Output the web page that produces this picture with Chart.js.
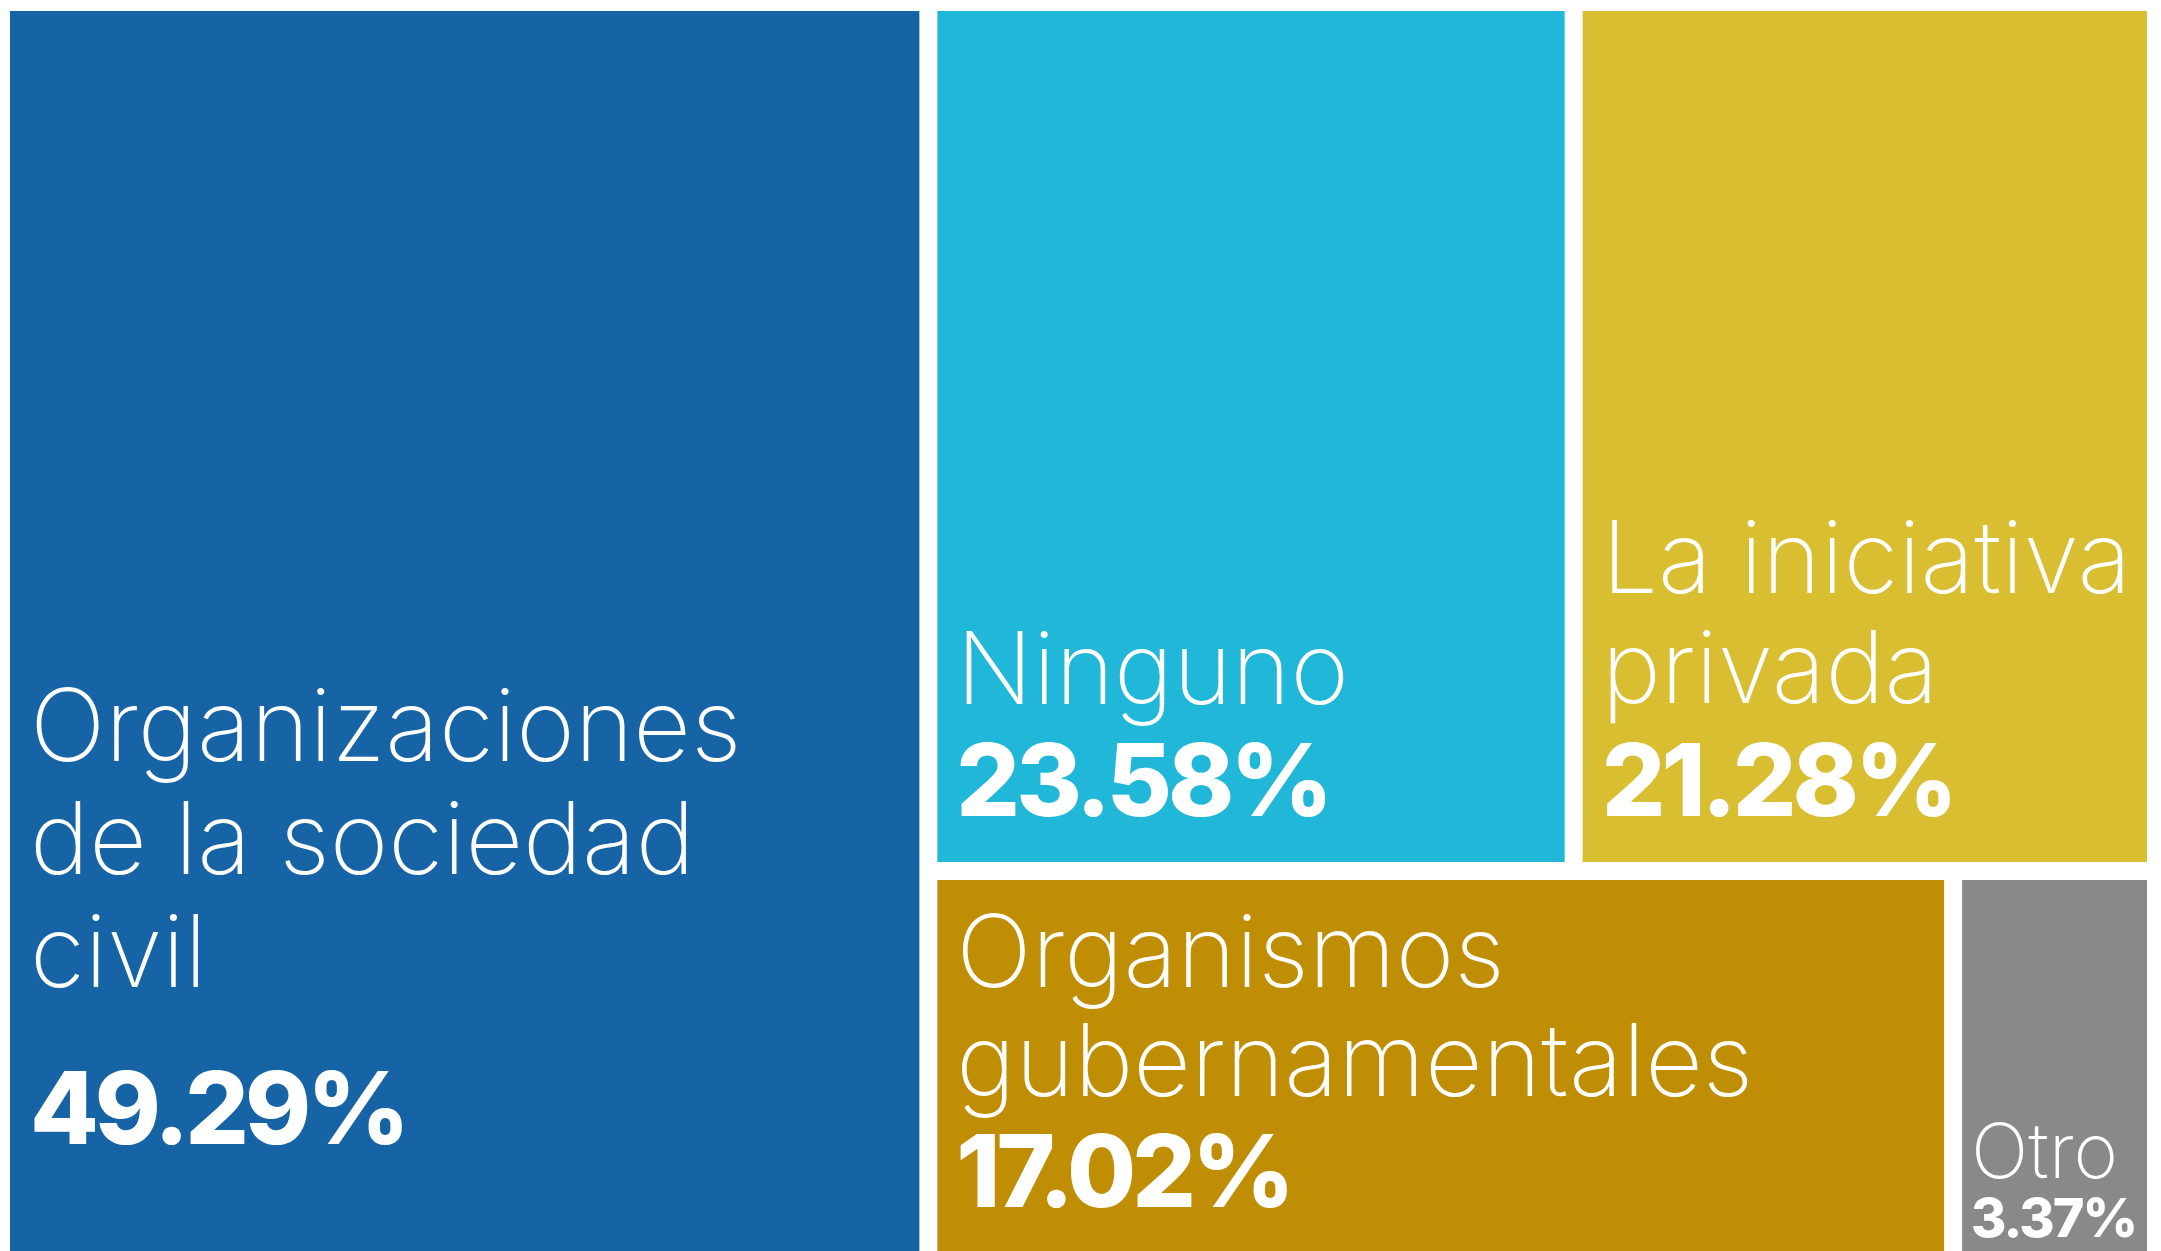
<!DOCTYPE html>
<html>
<head>
<meta charset="utf-8">
<script src="https://cdn.jsdelivr.net/npm/chart.js@4/dist/chart.umd.min.js"></script>
<style>
  html, body { margin: 0; padding: 0; background: #ffffff; overflow: hidden; width: 2161px; height: 1251px; }
  #wrap { position: absolute; left: 1px; top: 2px; width: 2155px; height: 1264px; }
</style>
</head>
<body>
<div id="wrap"><canvas id="treemap"></canvas></div>
<script>
// categories (label lines) and their share in %
const categories = [
    ['Organizaciones', 'de la sociedad', 'civil'],
    ['Ninguno'],
    ['La iniciativa', 'privada'],
    ['Organismos', 'gubernamentales'],
    ['Otro']
];
const shares = [49.29, 23.58, 21.28, 17.02, 3.37];
const colors = ['#1663a5', '#21b7d9', '#d9be31', '#bf8e04', '#898989'];

// text look per tile: font sizes, line height, bottom padding, gap label->value
const textStyle = [
    { size: 100, valSize: 100, lh: 113, pad: 20, bottom: 113, gap: 157, track: -4 },
    { size: 100, valSize: 100, lh: 112, pad: 19, bottom: 46, gap: 112, track: -4 },
    { size: 100, valSize: 100, lh: 110, pad: 19, bottom: 46, gap: 113, track: -4 },
    { size: 100, valSize: 100, lh: 109, pad: 19, bottom: 50, gap: 111, track: -4 },
    { size: 76, valSize: 54, lh: 80, pad: 9, bottom: 20, gap: 59, track: -2 }
];
const spacing = 9;

// squarified layout inside a pixel box
function squarify(values, box) {
    const total = values.reduce((a, b) => a + b, 0);
    const areas = values.map(v => v / total * box.w * box.h);
    const out = [];
    let r = { x: box.x, y: box.y, w: box.w, h: box.h };
    let i = 0;
    const worst = (row, side) => {
        const s = row.reduce((a, b) => a + b, 0);
        const mx = Math.max(...row), mn = Math.min(...row);
        return Math.max(side * side * mx / (s * s), (s * s) / (side * side * mn));
    };
    while (i < areas.length) {
        const side = Math.min(r.w, r.h);
        let row = [areas[i]];
        let j = i + 1;
        while (j < areas.length && worst(row.concat(areas[j]), side) <= worst(row, side)) {
            row.push(areas[j]);
            j++;
        }
        const s = row.reduce((a, b) => a + b, 0);
        if (r.w >= r.h) {
            const cw = s / r.h;
            let y = r.y;
            row.forEach(a => { const hh = a / cw; out.push({ x: r.x, y: y, w: cw, h: hh }); y += hh; });
            r = { x: r.x + cw, y: r.y, w: r.w - cw, h: r.h };
        } else {
            const rh = s / r.w;
            let x = r.x;
            row.forEach(a => { const ww = a / rh; out.push({ x: x, y: r.y, w: ww, h: rh }); x += ww; });
            r = { x: r.x, y: r.y + rh, w: r.w, h: r.h - rh };
        }
        i = j;
    }
    return out;
}

const treemapPlugin = {
    id: 'treemapPlugin',
    afterDatasetsDraw(chart) {
        const ctx = chart.ctx;
        const xs = chart.scales.x, ys = chart.scales.y;
        const x0 = xs.getPixelForValue(0), x1 = xs.getPixelForValue(100);
        const y0 = ys.getPixelForValue(0), y1 = ys.getPixelForValue(100);
        const ds = chart.data.datasets[0];
        const rects = squarify(ds.data, { x: x0, y: y0, w: x1 - x0, h: y1 - y0 });
        ctx.save();
        rects.forEach((r, k) => {
            const rx = r.x + spacing, ry = r.y + spacing;
            const rw = r.w - spacing * 2, rh = r.h - spacing * 2;
            ctx.fillStyle = ds.backgroundColor[k];
            ctx.fillRect(rx, ry, rw, rh);

            const st = textStyle[k];
            const lines = chart.data.labels[k];
            const valBase = ry + rh - st.bottom;
            ctx.fillStyle = '#ffffff';
            ctx.textAlign = 'left';
            ctx.textBaseline = 'alphabetic';
            ctx.font = '800 ' + st.valSize + 'px Inter, Lato, sans-serif';
            ctx.letterSpacing = st.track + 'px';
            ctx.fillText(ds.data[k].toFixed(2) + '%', rx + st.pad, valBase);
            ctx.letterSpacing = '0px';
            ctx.font = '200 ' + st.size + 'px Inter, Lato, sans-serif';
            const lastBase = valBase - st.gap;
            lines.forEach((ln, n) => {
                ctx.fillText(ln, rx + st.pad, lastBase - (lines.length - 1 - n) * st.lh);
            });
        });
        ctx.restore();
    }
};

const config = {
    type: 'scatter',
    data: {
        labels: categories,
        datasets: [{
            data: shares,
            backgroundColor: colors,
            pointRadius: 0
        }]
    },
    options: {
        animation: false,
        responsive: true,
        maintainAspectRatio: false,
        layout: { padding: 0 },
        scales: {
            x: { type: 'linear', min: 0, max: 100, display: false },
            y: { type: 'linear', min: 0, max: 100, reverse: true, display: false }
        },
        plugins: {
            legend: { display: false },
            tooltip: { enabled: false }
        }
    },
    plugins: [treemapPlugin]
};

const treemapChart = new Chart(document.getElementById('treemap'), config);
</script>
</body>
</html>
